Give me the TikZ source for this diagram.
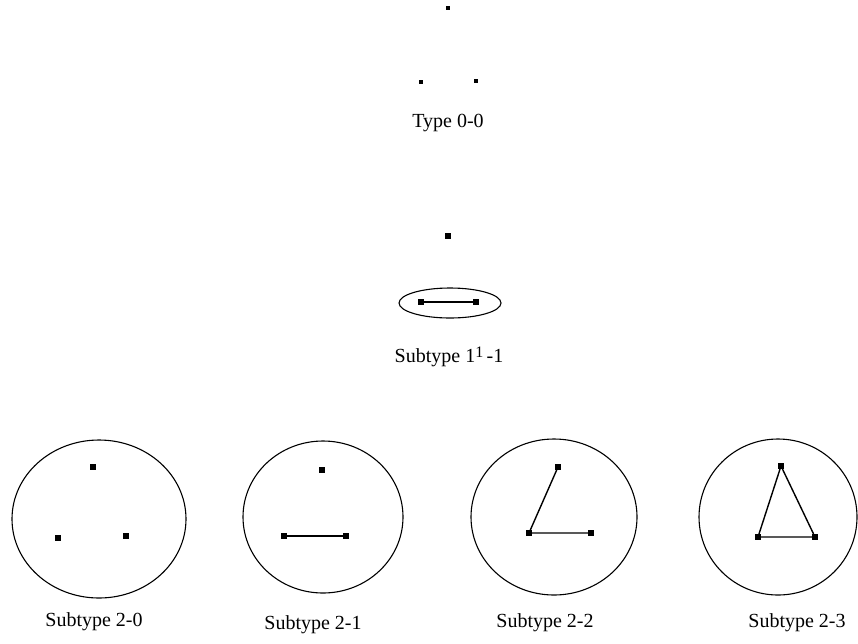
\documentclass[tikz,border=0pt]{standalone}
\usepackage{fontspec}
\setmainfont{Liberation Serif}
\begin{document}
\begin{tikzpicture}[x=1pt,y=-1pt,
  pt/.style={rectangle,fill=black,inner sep=0pt,minimum size=5.5pt},
  spt/.style={rectangle,fill=black,inner sep=0pt,minimum size=4pt},
  lbl/.style={font=\fontsize{20}{22}\selectfont,inner sep=0pt},
  edge/.style={line width=1.4pt},
  ring/.style={line width=1.1pt}]
\useasboundingbox[fill=white] (0,0) rectangle (858,643);
% Type 0-0
\node[spt] (a1) at (448,8) {};
\node[spt] (a2) at (421,82) {};
\node[spt] (a3) at (476,81) {};
\node[lbl] (la) at (448,123) {Type 0-0};
% Subtype 1^1-1
\node[pt] (b1) at (448,236) {};
\draw[ring] (450,303) ellipse [x radius=51pt, y radius=15pt];
\node[pt] (b2) at (421,302) {};
\node[pt] (b3) at (476,302) {};
\draw[edge] (b2) -- (b3);
\node[lbl] (lb) at (449,357) {Subtype 1\raisebox{0.6ex}{\fontsize{16}{17}\selectfont 1}\,-1};
% Subtype 2-0
\draw[ring] (99,519) ellipse [x radius=87pt, y radius=79pt];
\node[pt] (c1) at (93,467) {};
\node[pt] (c2) at (58,538) {};
\node[pt] (c3) at (126,536) {};
\node[lbl] (lc) at (94,622) {Subtype 2-0};
% Subtype 2-1
\draw[ring] (323,517) ellipse [x radius=80pt, y radius=76pt];
\node[pt] (d1) at (322,470) {};
\node[pt] (d2) at (284,536) {};
\node[pt] (d3) at (346,536) {};
\draw[edge] (d2) -- (d3);
\node[lbl] (ld) at (313,625) {Subtype 2-1};
% Subtype 2-2
\draw[ring] (554,517) ellipse [x radius=83pt, y radius=78pt];
\node[pt] (e1) at (558,467) {};
\node[pt] (e2) at (529,533) {};
\node[pt] (e3) at (591,533) {};
\draw[edge] (e1) -- (e2) -- (e3);
\node[lbl] (le) at (545,623) {Subtype 2-2};
% Subtype 2-3
\draw[ring] (778,517) ellipse [x radius=79pt, y radius=78pt];
\node[pt] (f1) at (781,466) {};
\node[pt] (f2) at (758,537) {};
\node[pt] (f3) at (815,537) {};
\draw[edge] (f1) -- (f2) -- (f3) -- (f1);
\node[lbl] (lf) at (797,623) {Subtype 2-3};
\end{tikzpicture}
\end{document}
